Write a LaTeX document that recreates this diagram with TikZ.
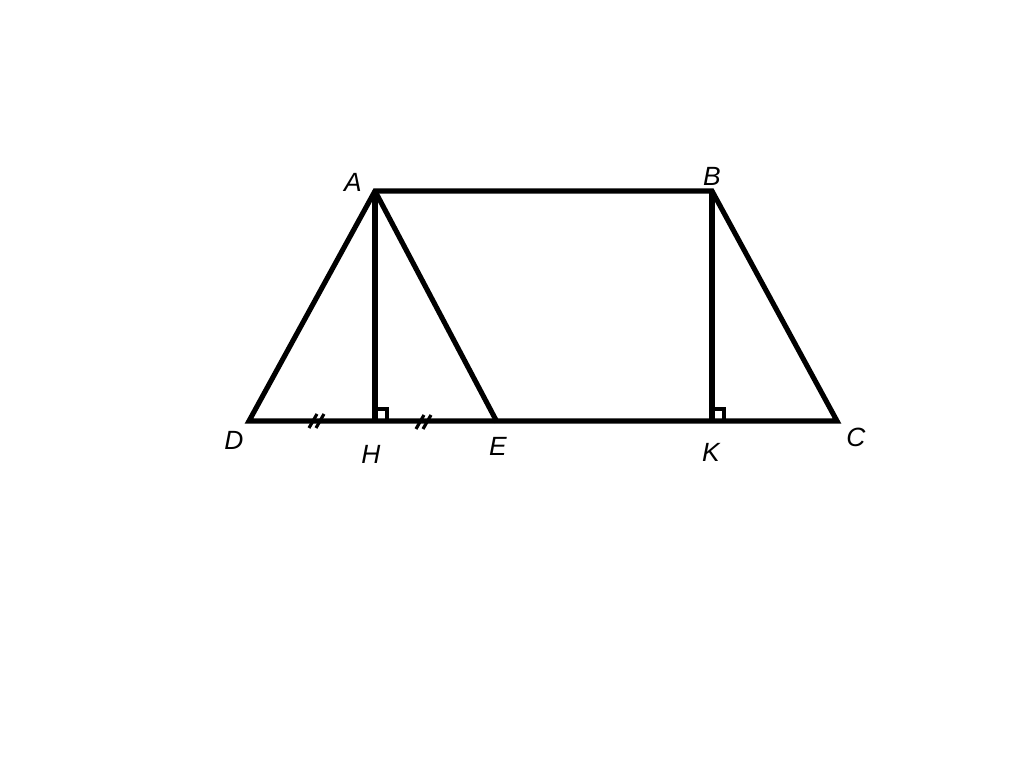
\documentclass[tikz,border=0pt]{standalone}
\usepackage{fontspec}
\setsansfont{Liberation Sans}
\begin{document}
\begin{tikzpicture}[x=0.01cm,y=-0.01cm,
  seg/.style={line width=1.45pt},
  tk/.style={line width=0.9pt},
  lbl/.style={font=\sffamily\itshape\fontsize{7.5}{8}\selectfont, inner sep=0pt}]
\useasboundingbox (0,0) rectangle (1024,765);
\coordinate (A) at (375,191);
\coordinate (B) at (712,191);
\coordinate (D) at (249,421);
\coordinate (H) at (375,421);
\coordinate (E) at (497,422);
\coordinate (K) at (712,421);
\coordinate (C) at (837,421);
\draw[seg] (D) -- (A) -- (B) -- (C) -- cycle;
\draw[seg] (A) -- (H);
\draw[seg] (A) -- (E);
\draw[seg] (B) -- (K);
% right angle marks
\draw[tk] ([xshift=0.12cm]H) -- ++(0,-12) -- ++(-12,0);
\draw[tk] ([xshift=0.12cm]K) -- ++(0,-12) -- ++(-12,0);
% tick marks
\coordinate (t1) at (318,421);
\coordinate (t2) at (425,422);
\foreach \t in {t1,t2}{
  \draw[tk] ([xshift=-0.05cm]\t) ++(-4,7) -- ++(8,-14);
  \draw[tk] ([xshift=0.02cm]\t) ++(-4,7) -- ++(8,-14);
}
\node[lbl] (lA) at (353,182) {A};
\node[lbl] (lB) at (712,176) {B};
\node[lbl] (lD) at (234,440) {D};
\node[lbl] (lH) at (371,454) {H};
\node[lbl] (lE) at (498,446) {E};
\node[lbl] (lK) at (711,452) {K};
\node[lbl] (lC) at (856,437) {C};
\end{tikzpicture}
\end{document}
